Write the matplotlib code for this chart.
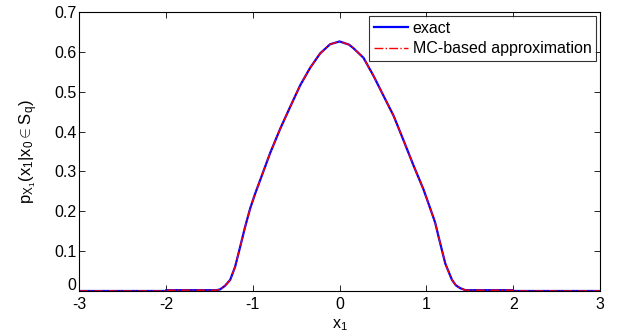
import matplotlib.pyplot as plt
import matplotlib.transforms as mtransforms

plt.rcParams['font.family'] = ['Liberation Sans', 'DejaVu Sans']
plt.rcParams['mathtext.fontset'] = 'custom'
plt.rcParams['mathtext.rm'] = 'Liberation Sans'
plt.rcParams['mathtext.it'] = 'Liberation Sans'
plt.rcParams['mathtext.sf'] = 'Liberation Sans'

# values
x_vals = [-3.0, -2.0, -1.999, -1.5, -1.42, -1.376, -1.32, -1.26, -1.203, -1.145,
          -1.088, -1.030, -0.973, -0.915, -0.800, -0.684, -0.569, -0.454,
          -0.339, -0.224, -0.109, 0.0, 0.109, 0.160, 0.275, 0.390, 0.505,
          0.621, 0.736, 0.851, 0.966, 1.044, 1.10, 1.140, 1.217, 1.294,
          1.34, 1.390, 1.45, 1.5, 1.999, 2.0, 3.0]
p_exact = [0.0, 0.0, 0.002, 0.002, 0.002, 0.004, 0.013, 0.028, 0.061, 0.111,
           0.161, 0.207, 0.244, 0.278, 0.346, 0.407, 0.462, 0.516,
           0.560, 0.596, 0.619, 0.626, 0.618, 0.609, 0.585, 0.540, 0.490,
           0.440, 0.378, 0.315, 0.255, 0.207, 0.172, 0.136, 0.069, 0.028,
           0.014, 0.007, 0.002, 0.002, 0.002, 0.0, 0.0]
p_mc = list(p_exact)

fig = plt.figure(figsize=(6.18, 3.32), dpi=100)
ax = fig.add_axes([0.128, 0.1235, 0.843, 0.8405])

ax.plot(x_vals, p_exact, color='#0000ff', lw=1.6, label='exact')
ax.plot(x_vals, p_mc, color='#ff0000', lw=1.0, linestyle='-.', label='MC-based approximation')

ax.set_xlim(-3, 3)
ax.set_ylim(0, 0.7)
ax.set_xticks([-3, -2, -1, 0, 1, 2, 3])
ax.set_xticklabels(['-3', '-2', '-1', '0', '1', '2', '3'])
ax.set_yticks([0, 0.1, 0.2, 0.3, 0.4, 0.5, 0.6, 0.7])
ax.set_yticklabels(['0', '0.1', '0.2', '0.3', '0.4', '0.5', '0.6', '0.7'])
ax.tick_params(direction='in', top=True, right=True, length=4, width=0.6,
               labelsize=11.5)
ax.tick_params(axis='x', pad=4)
ax.tick_params(axis='y', pad=2)
for s in ax.spines.values():
    s.set_linewidth(0.8)

# nudge the "0" on the y axis up so it clears the "-3" below it
lbl0 = ax.get_yticklabels()[0]
lbl0.set_transform(lbl0.get_transform() +
                   mtransforms.ScaledTranslation(0, 5 / 72, fig.dpi_scale_trans))

ax.set_xlabel(r'$\mathrm{x}_1$', fontsize=11.5, labelpad=4)
ax.set_ylabel(r'$\mathrm{p}_{\mathrm{X}_1}(\mathrm{x}_1|\mathrm{x}_0\in\mathrm{S}_\mathrm{q})$',
              fontsize=12, labelpad=10)

leg = ax.legend(loc='upper right', fontsize=11.5, frameon=True, fancybox=False,
                edgecolor='black', borderpad=0.3, labelspacing=0.35,
                handlelength=2.1, handletextpad=0.3, borderaxespad=0.25)
leg.get_frame().set_linewidth(0.8)

fig.savefig('out.png', dpi=100)
